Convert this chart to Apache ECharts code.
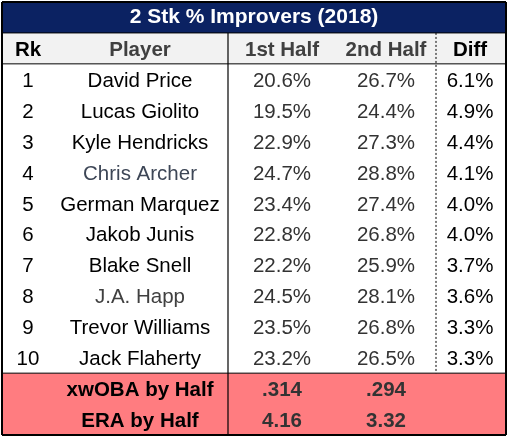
<!DOCTYPE html>
<html lang="en">
<head>
    <meta charset="UTF-8">
    <title>2 Stk % Improvers</title>
    <script src="https://cdn.jsdelivr.net/npm/echarts@6/dist/echarts.min.js"></script>
    <style>
        html, body { margin: 0; padding: 0; background: #fff; }
    </style>
</head>
<body>
    <div id="chart1" style="width: 508px;height:440px;"></div>
    <script type="text/javascript">
        // table data
        var titleText = '2 Stk % Improvers (2018)';
        var headers = ['Rk', 'Player', '1st Half', '2nd Half', 'Diff'];
        var ranks = [1, 2, 3, 4, 5, 6, 7, 8, 9, 10];
        var players = ['David Price', 'Lucas Giolito', 'Kyle Hendricks', 'Chris Archer', 'German Marquez',
            'Jakob Junis', 'Blake Snell', 'J.A. Happ', 'Trevor Williams', 'Jack Flaherty'];
        var firstHalf = [20.6, 19.5, 22.9, 24.7, 23.4, 22.8, 22.2, 24.5, 23.5, 23.2];
        var secondHalf = [26.7, 24.4, 27.3, 28.8, 27.4, 26.8, 25.9, 28.1, 26.8, 26.5];
        var diffs = [6.1, 4.9, 4.4, 4.1, 4.0, 4.0, 3.7, 3.6, 3.3, 3.3];
        var summaryLabels = ['xwOBA by Half', 'ERA by Half'];
        var summaryFirst = ['.314', '4.16'];
        var summarySecond = ['.294', '3.32'];

        // layout (x axis runs 0..504, y axis counts rows 0..14)
        var colCenter = [26, 138, 280, 384, 468];
        var fullWidth = 504;
        var solidDivider = 226;
        var dottedDivider = 434;
        var nRows = 2 + ranks.length + summaryLabels.length;
        var fontFam = '"Liberation Sans", Arial, sans-serif';
        var fs = 20.5;

        var myChart = echarts.init(document.getElementById('chart1'));

        // background bands: [x0, x1, rowStart, rowEnd, colour]
        var bands = [
            [0, fullWidth, 0, 1, '#0b2262'],
            [0, fullWidth, 1, 2, '#f2f2f2'],
            [0, fullWidth, 2, 2 + ranks.length, '#ffffff'],
            [0, fullWidth, 2 + ranks.length, nRows, '#ff7c80']
        ];

        // cells: [x, row, text, colour, bold, size, rowOffset]
        var cells = [];
        cells.push([fullWidth / 2, 0, titleText, '#ffffff', true, 21, 0.5]);
        var headColours = ['#000000', '#404040', '#404040', '#404040', '#000000'];
        for (var c = 0; c < headers.length; c++) {
            cells.push([colCenter[c], 1, headers[c], headColours[c], true, fs, 0.55]);
        }
        for (var i = 0; i < ranks.length; i++) {
            var r = 2 + i;
            var nameCol = (players[i] === 'Chris Archer') ? '#3d4656' :
                (players[i] === 'J.A. Happ') ? '#404040' : '#000000';
            cells.push([colCenter[0], r, String(ranks[i]), '#000000', false, fs, 0.56]);
            cells.push([colCenter[1], r, players[i], nameCol, false, fs, 0.56]);
            cells.push([colCenter[2], r, firstHalf[i].toFixed(1) + '%', '#333333', false, fs, 0.56]);
            cells.push([colCenter[3], r, secondHalf[i].toFixed(1) + '%', '#333333', false, fs, 0.56]);
            cells.push([colCenter[4], r, diffs[i].toFixed(1) + '%', '#000000', false, fs, 0.56]);
        }
        for (var j = 0; j < summaryLabels.length; j++) {
            var rr = 2 + ranks.length + j;
            cells.push([colCenter[1], rr, summaryLabels[j], '#000000', true, fs, 0.55]);
            cells.push([colCenter[2], rr, summaryFirst[j], '#333333', true, fs, 0.55]);
            cells.push([colCenter[3], rr, summarySecond[j], '#333333', true, fs, 0.55]);
        }

        // rule lines: [x1, row1, x2, row2, dashed, width]
        var rules = [
            [0, 1, fullWidth, 1, false, 1],
            [0, 2, fullWidth, 2, false, 1],
            [0, 2 + ranks.length, fullWidth, 2 + ranks.length, false, 1],
            [solidDivider, 1, solidDivider, nRows, false, 1.2],
            [dottedDivider, 1, dottedDivider, 2 + ranks.length, true, 1],
            [0, 0, fullWidth, 0, false, 2],
            [0, nRows, fullWidth, nRows, false, 2],
            [0, 0, 0, nRows, false, 2],
            [fullWidth, 0, fullWidth, nRows, false, 2]
        ];

        option = {
            animation: false,
            grid: { left: 2, right: 2, top: 2, bottom: 5 },
            xAxis: { type: 'value', min: 0, max: fullWidth, show: false },
            yAxis: { type: 'value', min: 0, max: nRows, inverse: true, show: false },
            series: [{
                type: 'custom',
                data: bands,
                renderItem: function (params, api) {
                    var p0 = api.coord([api.value(0), api.value(2)]);
                    var p1 = api.coord([api.value(1), api.value(3)]);
                    return {
                        type: 'rect',
                        shape: { x: p0[0], y: p0[1], width: p1[0] - p0[0], height: p1[1] - p0[1] },
                        style: { fill: bands[params.dataIndex][4] }
                    };
                }
            }, {
                type: 'custom',
                data: cells,
                renderItem: function (params, api) {
                    var d = cells[params.dataIndex];
                    var p = api.coord([d[0], d[1] + d[6]]);
                    return {
                        type: 'text',
                        x: p[0],
                        y: p[1],
                        style: {
                            text: d[2],
                            align: 'center',
                            verticalAlign: 'middle',
                            fill: d[3],
                            fontFamily: fontFam,
                            fontWeight: d[4] ? 'bold' : 'normal',
                            fontSize: d[5]
                        }
                    };
                }
            }, {
                type: 'custom',
                data: rules,
                renderItem: function (params, api) {
                    var d = rules[params.dataIndex];
                    var a = api.coord([d[0], d[1]]);
                    var b = api.coord([d[2], d[3]]);
                    return {
                        type: 'line',
                        shape: { x1: a[0], y1: a[1], x2: b[0], y2: b[1] },
                        style: { stroke: '#000', lineWidth: d[5], lineDash: d[4] ? [2, 2] : null }
                    };
                }
            }]
        };
        myChart.setOption(option);
    </script>
</body>
</html>
